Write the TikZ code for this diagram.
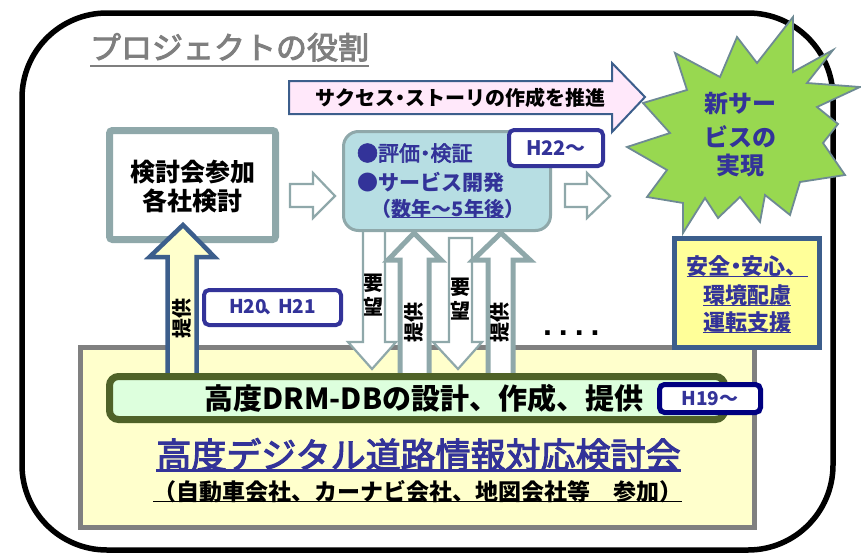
\documentclass[tikz,border=0pt]{standalone}
\usepackage{fontspec}
\setmainfont{Noto Sans CJK JP}
\newfontfamily\medfont[FakeBold=3]{Noto Sans CJK JP}
\newfontfamily\latinb{Liberation Sans}
\definecolor{tealbd}{HTML}{8FA8AA}
\definecolor{tealfill}{HTML}{B7DEE3}
\definecolor{navytxt}{HTML}{333399}
\definecolor{navyb}{HTML}{000080}
\definecolor{slate}{HTML}{3C5E8C}
\definecolor{pinkf}{HTML}{FFE8FA}
\definecolor{paleyel}{HTML}{FFFFCC}
\definecolor{yelbox}{HTML}{FFFF99}
\definecolor{olive}{HTML}{4F6228}
\definecolor{mint}{HTML}{DDFFDD}
\definecolor{starg}{HTML}{98D850}
\definecolor{stargb}{HTML}{6E8A94}
\definecolor{titlegray}{HTML}{7F7F7F}
\definecolor{boxgray}{HTML}{808080}
\newcommand\pxsize[1]{\fontsize{#1}{#1}\selectfont}
\newcommand\myul[2][0.14em]{\leavevmode\setbox0=\hbox{#2}\rlap{\rule[-#1]{\wd0}{0.07em}}\box0}
\newcommand\ndot{{\kern-0.25em}・{\kern-0.25em}}
\begin{document}
\begin{tikzpicture}[x=1pt,y=-1pt,
  lbl/.style={inner sep=0pt, outer sep=0pt},
  hbox/.style={draw=navytxt, line width=4pt, fill=white, rounded corners=5pt},
  thinarrow/.style={draw=tealbd, line width=2.2pt, fill=white, line join=miter},
  thickarrow/.style={draw=tealbd, line width=5pt, fill=white, line join=miter},
  navy/.style={lbl, text=navytxt, font=\bfseries}]
\useasboundingbox (0,0) rectangle (861,554);
\fill[white] (0,0) rectangle (861,554);
% outer frame
\draw[line width=5.5pt, rounded corners=85pt] (22,13) rectangle (833,550);
% title
\node[lbl, text=titlegray, anchor=base west] (title) at (90,59) {\medfont\pxsize{31}\myul[0.26em]{プロジェクトの役割}};
% pink arrow
\draw[draw=slate, fill=pinkf, line width=2pt, line join=miter] (289,81) -- (612,81) -- (612,63) -- (645,97) -- (612,132) -- (612,114) -- (289,114) -- cycle;
\node[lbl, anchor=base] (succ) at (460,105.5) {\pxsize{20}\bfseries サクセス\ndot ストーリの作成を推進};
% starburst
\draw[fill=starg, draw=stargb, line width=1.8pt, line join=miter]
 (793,17) -- (793,72) -- (833,50) -- (807,83) -- (860,87) -- (817,107) -- (838,124) -- (823,143)
 -- (845,175) -- (800,182) -- (790,215) -- (765,195) -- (760,222) -- (740,197) -- (718,218) -- (705,198)
 -- (683,233) -- (683,203) -- (647,197) -- (667,170) -- (627,147) -- (670,133) -- (643,103) -- (687,90)
 -- (675,53) -- (720,77) -- (737,37) -- (757,63) -- cycle;
\node[navy, anchor=base] (star1) at (740,112) {\pxsize{24}新サー};
\node[navy, anchor=base] (star2) at (740,146) {\pxsize{24}ビスの};
\node[navy, anchor=base] (star3) at (740,174) {\pxsize{24}実現};
% bottom yellow box
\draw[draw=boxgray, fill=paleyel, line width=5pt] (80.5,347.5) rectangle (754.5,527.5);
% left box
\draw[draw=tealbd, line width=7pt, fill=white, rounded corners=3pt] (109.5,130.5) rectangle (275.5,239.5);
\node[lbl, anchor=base, font=\bfseries] (study1) at (192.5,181) {\pxsize{25}検討会参加};
\node[lbl, anchor=base, font=\bfseries] (study2) at (192.5,210.5) {\pxsize{25}各社検討};
% hollow arrows
\draw[thinarrow] (290,184) -- (313,184) -- (313,173) -- (335,196) -- (313,218) -- (313,207) -- (290,207) -- cycle;
\draw[thinarrow] (565,184) -- (587,184) -- (587,173) -- (610,196) -- (587,218) -- (587,207) -- (565,207) -- cycle;
% down arrow 1 (behind teal box)
\draw[thinarrow] (363,225) -- (363,342) -- (348,342) -- (372,369) -- (396,342) -- (385,342) -- (385,225) -- cycle;
% teal box
\draw[draw=tealbd, fill=tealfill, line width=3pt, rounded corners=15pt] (343.5,131.5) rectangle (550.5,230.5);
\node[lbl, text=navytxt, anchor=base west] (eval) at (357,161) {\medfont\pxsize{21}●評価\ndot 検証};
\node[navy, anchor=base west] (dev) at (357,190) {\pxsize{21}●サービス開発};
\node[navy, anchor=base] (years) at (448,216) {\pxsize{20}（\myul[0.1em]{数年～5年後}）};
% down arrow 2
\draw[thinarrow] (449,238) -- (449,342) -- (433,342) -- (458,369) -- (482,342) -- (472,342) -- (472,238) -- cycle;
% up arrows
\draw[thickarrow] (400,378) -- (400,260) -- (388,260) -- (414,233) -- (441,260) -- (429,260) -- (429,378) -- cycle;
\draw[thickarrow] (488,378) -- (488,260) -- (473,260) -- (501,233) -- (530,260) -- (513,260) -- (513,378) -- cycle;
% left yellow up arrow
\draw[draw=slate, fill=paleyel, line width=4.5pt, line join=miter] (167.5,378) -- (167.5,257) -- (149.5,257) -- (183,225) -- (214.5,257) -- (196.5,257) -- (196.5,378) -- cycle;
% arrow labels
\node[lbl, font=\bfseries\pxsize{20}, align=center] (req1) at (373,295) {要\\[4pt]望};
\node[lbl, font=\bfseries\pxsize{20}, align=center] (req2) at (460,299) {要\\[4pt]望};
\node[lbl, font=\bfseries\pxsize{20}, rotate=90] (prov0) at (182,318) {提供};
\node[lbl, font=\bfseries\pxsize{20}, rotate=90] (prov1) at (414,322) {提供};
\node[lbl, font=\bfseries\pxsize{20}, rotate=90] (prov2) at (500,322) {提供};
\node[lbl, anchor=base west] (dots) at (543,335.5) {\latinb\bfseries\pxsize{32}.\hspace{7pt}.\hspace{7pt}.\hspace{7pt}.};
% H boxes
\draw[hbox] (509,130) rectangle (603,166);
\node[navy] (h22) at (556,148) {\pxsize{20}H22～};
\draw[hbox] (204,290) rectangle (341,325);
\node[navy] (h20) at (272.5,307.5) {\pxsize{19}H20{\kern-4pt}、{\kern-4pt}H21};
% safety box
\draw[draw=slate, fill=yelbox, line width=5pt] (674.5,238.5) rectangle (819.5,347.5);
\node[navy, anchor=base] (safe1) at (747,274) {\pxsize{22}\myul{安全\ndot 安心、}};
\node[navy, anchor=base] (safe2) at (747,303) {\pxsize{22}\myul{環境配慮}};
\node[navy, anchor=base] (safe3) at (747,330) {\pxsize{22}\myul{運転支援}};
% green bar
\draw[draw=olive, fill=mint, line width=7pt, rounded corners=9pt] (109.5,376.5) rectangle (724.5,419.5);
\node[lbl, anchor=base, font=\bfseries] (drm) at (424,409.5) {\pxsize{29}高度DRM-DBの設計、作成、提供};
\draw[draw=navyb, fill=white, line width=5pt, rounded corners=5pt] (659.5,384.5) rectangle (760.5,412.5);
\node[navy] (h19) at (710,398.5) {\pxsize{19}H19～};
% committee texts
\node[lbl, text=navytxt, anchor=base] (comm) at (418.5,468) {\medfont\pxsize{35}\myul[0.11em]{高度デジタル道路情報対応検討会}};
\node[lbl, font=\bfseries, anchor=base] (members) at (417.5,500) {\pxsize{23}\myul[0.1em]{（自動車会社、カーナビ会社、地図会社等　参加）}};
\end{tikzpicture}
\end{document}
